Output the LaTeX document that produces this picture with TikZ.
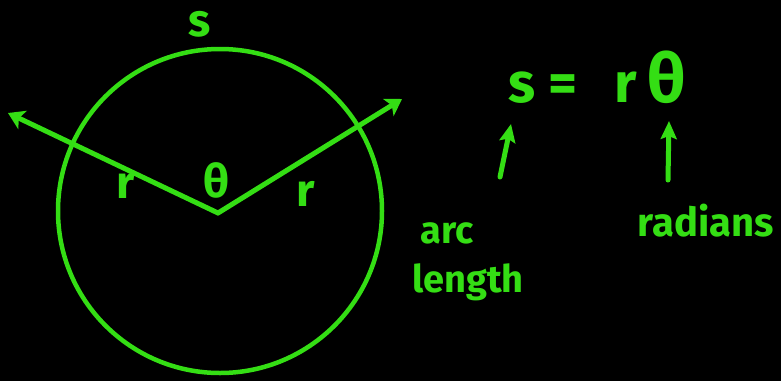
\documentclass[tikz,border=0pt]{standalone}
\usepackage{fontspec}
\setmainfont{Fira Sans}
\usetikzlibrary{arrows.meta}
\definecolor{chalk}{RGB}{52,222,20}
\begin{document}
\begin{tikzpicture}[x=1pt,y=-1pt,
  chalkline/.style={draw=chalk,line width=5pt,line cap=round,line join=round},
  arrowline/.style={chalkline,-{Stealth[length=16pt,width=20pt,inset=4pt]}},
  uparrow/.style={chalkline,-{Stealth[length=18pt,width=16pt,inset=3pt]}},
  lbl/.style={text=chalk,inner sep=0pt,anchor=center},
  big/.style={lbl,anchor=base,font=\bfseries\fontsize{56}{60}\selectfont},
  bigth/.style={lbl,anchor=base,font=\bfseries\fontsize{68}{70}\selectfont},
  mid/.style={lbl,font=\bfseries\fontsize{46}{48}\selectfont},
  word/.style={lbl,anchor=base,font=\bfseries\fontsize{38}{40}\selectfont}]
\fill[black] (0,0) rectangle (781,381);
\useasboundingbox (0,0) rectangle (781,381);
% circle
\node[chalkline,circle,minimum size=324pt,line width=4.5pt] (circ) at (220,211) {};
\coordinate (O) at (218,213);
\coordinate (L) at (8,113);
\coordinate (R) at (402,99);
\draw[arrowline] (O) -- (L);
\draw[arrowline] (O) -- (R);
% labels in circle
\node[mid] (s1) at (200,24) {s};
\node[mid] (th1) at (216,180) {θ};
\node[mid] (r1) at (126,186) {r};
\node[mid] (r2) at (306,194) {r};
% equation
\node[big] (es) at (522,102) {s};
\node[big] (eeq) at (563,102) {=};
\node[big] (er) at (626,102) {r};
\node[bigth] (eth) at (667,102) {θ};
\coordinate (a1s) at (500,177);
\coordinate (a1e) at (511,124);
\coordinate (a2s) at (668,180);
\coordinate (a2e) at (669,121);
\draw[uparrow] (a1s) -- (a1e);
\draw[uparrow] (a2s) -- (a2e);
\node[word] (arc) at (447,243) {arc};
\node[word] (len) at (468,292) {length};
\node[word,font=\bfseries\fontsize{40}{42}\selectfont] (rad) at (706,236) {radians};
\end{tikzpicture}
\end{document}
